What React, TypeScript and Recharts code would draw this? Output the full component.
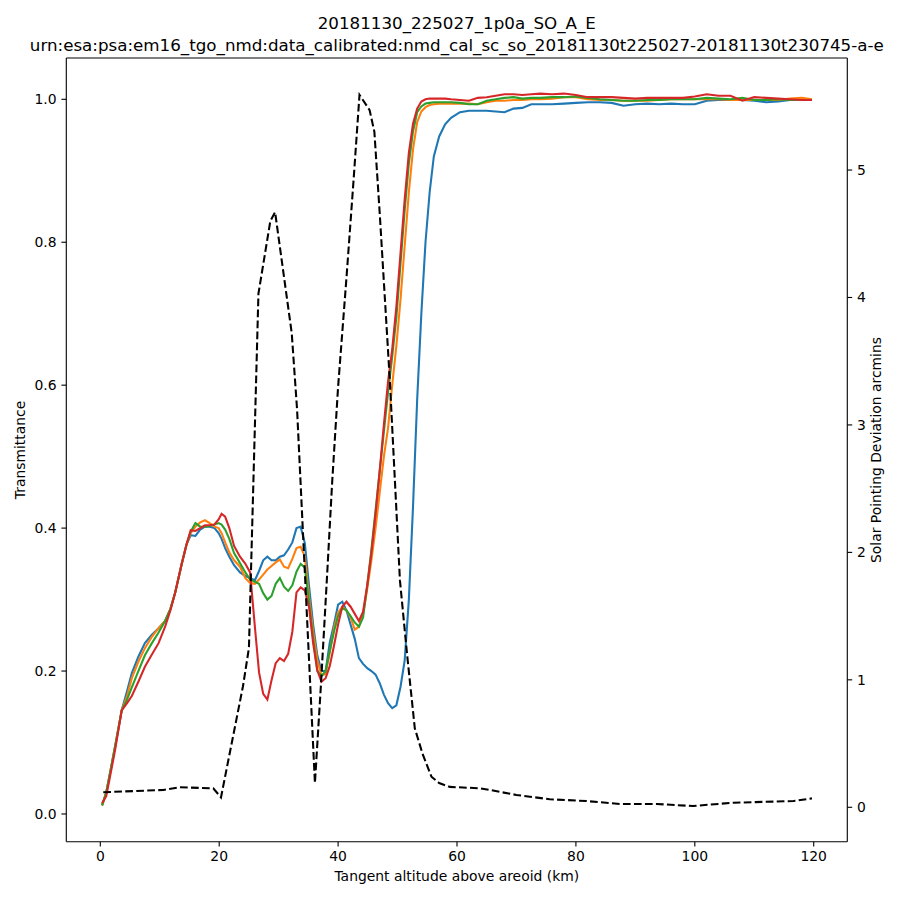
import React from "react";
import { LineChart, Line, XAxis, YAxis, ReferenceLine } from "recharts";

// Tangent altitude grid (km) for the transmittance curves
const altitude = [
  0.3, 1.0, 1.7, 2.5, 3.6, 4.5, 5.3, 6.4, 7.5, 8.6,
  9.8, 10.9, 11.8, 12.6, 13.7, 14.5, 15.2, 16.0, 16.8, 17.6,
  18.4, 19.2, 19.9, 20.4, 21.0, 21.7, 22.5, 23.5, 24.4, 25.2,
  26.0, 26.7, 27.4, 28.1, 28.8, 29.5, 30.2, 30.9, 31.6, 32.3,
  33.0, 33.7, 34.4, 35.1, 35.8, 36.5, 37.2, 37.9, 38.6, 39.3,
  40.0, 40.7, 41.4, 42.1, 42.8, 43.5, 44.2, 44.9, 45.6, 46.3,
  47.0, 47.7, 48.4, 49.1, 49.8, 50.5, 51.2, 51.9, 52.6, 53.3,
  54.0, 54.7, 55.4, 56.1, 57, 58, 59, 60.5, 62, 63.5,
  65, 66.5, 68, 69.5, 71, 72.5, 74, 76, 78, 80,
  82, 84, 86, 88, 90, 92, 94, 96, 98, 100,
  102, 104, 106, 108, 110, 112, 114, 116, 118, 119.7,
];

const blueT = [
  0.012, 0.03, 0.06, 0.095, 0.145, 0.172, 0.197, 0.22, 0.239, 0.25,
  0.26, 0.27, 0.287, 0.31, 0.35, 0.377, 0.39, 0.389, 0.398, 0.402,
  0.402, 0.4, 0.393, 0.385, 0.372, 0.36, 0.348, 0.338, 0.333, 0.33,
  0.327, 0.34, 0.355, 0.36, 0.355, 0.355, 0.36, 0.362, 0.37, 0.38,
  0.4, 0.402, 0.379, 0.32, 0.265, 0.222, 0.2, 0.2, 0.24, 0.265,
  0.293, 0.297, 0.285, 0.265, 0.245, 0.218, 0.21, 0.204, 0.2, 0.195,
  0.183, 0.167, 0.155, 0.148, 0.152, 0.178, 0.215, 0.3, 0.43, 0.58,
  0.7, 0.8, 0.87, 0.92, 0.948, 0.965, 0.974, 0.982, 0.984, 0.984,
  0.984, 0.983, 0.982, 0.987, 0.988, 0.993, 0.993, 0.993, 0.994, 0.995,
  0.996, 0.996, 0.995, 0.991, 0.993, 0.994, 0.993, 0.994, 0.993, 0.993,
  0.998, 0.999, 0.999, 0.999, 0.998, 0.996, 0.997, 0.999, 0.999, 0.999,
];

const orangeT = [
  0.012, 0.03, 0.06, 0.095, 0.145, 0.165, 0.19, 0.213, 0.232, 0.247,
  0.26, 0.27, 0.287, 0.31, 0.35, 0.377, 0.393, 0.402, 0.408, 0.411,
  0.407, 0.402, 0.4, 0.393, 0.38, 0.366, 0.355, 0.346, 0.33, 0.323,
  0.322, 0.328, 0.335, 0.342, 0.347, 0.352, 0.356, 0.346, 0.344, 0.357,
  0.372, 0.374, 0.36, 0.305, 0.255, 0.215, 0.194, 0.196, 0.226, 0.26,
  0.282, 0.29, 0.285, 0.275, 0.258, 0.262, 0.28, 0.315, 0.355, 0.4,
  0.45, 0.5, 0.54, 0.6, 0.655, 0.72, 0.795, 0.87, 0.93, 0.968,
  0.983, 0.989, 0.992, 0.993, 0.994, 0.994, 0.994, 0.994, 0.994, 0.993,
  0.996, 0.998, 0.998, 0.999, 0.999, 1.0, 1.0, 1.001, 1.003, 1.003,
  1.0, 0.999, 0.999, 0.998, 0.998, 0.998, 0.999, 1.0, 1.0, 1.0,
  1.0, 1.0, 0.999, 0.999, 0.999, 0.999, 0.999, 1.001, 1.002, 1.0,
];

const greenT = [
  0.012, 0.03, 0.06, 0.095, 0.145, 0.16, 0.177, 0.2, 0.222, 0.238,
  0.254, 0.27, 0.287, 0.31, 0.35, 0.377, 0.395, 0.407, 0.402, 0.402,
  0.403, 0.405, 0.407, 0.405, 0.398, 0.385, 0.365, 0.351, 0.338, 0.328,
  0.325, 0.322, 0.309, 0.3, 0.305, 0.322, 0.33, 0.318, 0.312, 0.32,
  0.339, 0.35, 0.345, 0.297, 0.245, 0.2, 0.193, 0.2, 0.228, 0.255,
  0.277, 0.288, 0.285, 0.277, 0.268, 0.262, 0.275, 0.32, 0.37, 0.425,
  0.48, 0.535, 0.59, 0.64, 0.695, 0.77, 0.845, 0.91, 0.955, 0.982,
  0.99, 0.994, 0.995, 0.996, 0.996, 0.996, 0.996, 0.995, 0.993, 0.993,
  0.998, 1.0, 1.002, 1.003, 1.001, 1.002, 1.002, 1.003, 1.003, 1.004,
  1.002, 1.0, 0.999, 0.998, 0.998, 0.999, 0.999, 1.0, 1.0, 1.0,
  1.002, 1.001, 1.0, 1.002, 0.999, 0.999, 1.0, 0.999, 0.999, 0.999,
];

const redT = [
  0.015, 0.025, 0.055, 0.09, 0.145, 0.155, 0.165, 0.185, 0.206, 0.222,
  0.239, 0.262, 0.285, 0.31, 0.35, 0.377, 0.397, 0.396, 0.4, 0.404,
  0.404, 0.405, 0.412, 0.42, 0.416, 0.4, 0.375, 0.36, 0.35, 0.338,
  0.262, 0.198, 0.168, 0.16, 0.187, 0.211, 0.218, 0.214, 0.224, 0.255,
  0.31, 0.317, 0.313, 0.29, 0.239, 0.201, 0.185, 0.19, 0.207, 0.235,
  0.265, 0.29, 0.297, 0.29, 0.28, 0.27, 0.283, 0.32, 0.365, 0.42,
  0.48, 0.545, 0.605, 0.65, 0.71, 0.785, 0.86, 0.925, 0.966, 0.987,
  0.997, 1.0, 1.001, 1.001, 1.001, 1.001, 1.0, 0.999, 0.998, 1.002,
  1.003, 1.005, 1.007, 1.007, 1.006, 1.007, 1.008, 1.007, 1.008, 1.006,
  1.003, 1.003, 1.003, 1.002, 1.001, 1.002, 1.002, 1.002, 1.002, 1.004,
  1.007, 1.005, 1.005, 0.998, 1.003, 1.002, 1.001, 1.0, 0.999, 0.999,
];

// Solar pointing deviation (arcmins), right axis
const deviationAltitude = [
  0.5, 10.6, 13.4, 19.0, 20.3, 24.0, 25.0, 26.6, 28.6, 29.4,
  32.2, 33.1, 36.1, 37.1, 38.1, 39.0, 40.0, 41.4, 42.6, 43.6,
  45.3, 46.1, 47.0, 48.7, 50.4, 51.6, 52.9, 54.2, 55.7, 57.0,
  58.8, 63.9, 65.5, 70.0, 75.6, 81.8, 87.4, 93.6, 99.7, 106.5,
  116.6, 119.7,
];
const deviation = [
  0.118, 0.136, 0.157, 0.149, 0.078, 0.95, 1.25, 4.03, 4.6, 4.67,
  3.72, 3.12, 0.19, 0.95, 1.78, 2.55, 3.3, 4.15, 4.92, 5.59,
  5.47, 5.3, 4.66, 3.35, 1.78, 1.2, 0.62, 0.42, 0.24, 0.19,
  0.16, 0.149, 0.136, 0.097, 0.063, 0.049, 0.026, 0.026, 0.01, 0.036,
  0.049, 0.07,
];

const xTicks = [0, 20, 40, 60, 80, 100, 120];
const leftTicks = [0, 0.2, 0.4, 0.6, 0.8, 1.0];
const rightTicks = [0, 1, 2, 3, 4, 5];

const titleLine1 = "20181130_225027_1p0a_SO_A_E";
const titleLine2 =
  "urn:esa:psa:em16_tgo_nmd:data_calibrated:nmd_cal_sc_so_20181130t225027-20181130t230745-a-e";

const transData = altitude.map((a, i) => ({
  alt: a,
  blue: blueT[i],
  orange: orangeT[i],
  green: greenT[i],
  red: redT[i],
}));
const devData = deviationAltitude.map((a, i) => ({ alt: a, dev: deviation[i] }));

const FONT = "'DejaVu Sans', sans-serif";
const tickStyle = { fontSize: 13.9, fill: "#000", fontFamily: FONT };
const LW = 2.08;
const SPINE = 1.11;

export default function App() {
  const W = 884;
  const H = 884;
  return (
    <div style={{ position: "relative", width: W, height: H, fontFamily: FONT, color: "#000" }}>
      <LineChart
        width={W}
        height={H}
        margin={{ top: 50, right: 0, bottom: 0, left: 0 }}
      >
        <XAxis
          type="number"
          dataKey="alt"
          domain={[-5.72, 125.65]}
          allowDataOverflow
          ticks={xTicks}
          interval={0}
          height={50.3}
          tickSize={4.9}
          tickMargin={4.5}
          tick={tickStyle}
          axisLine={{ stroke: "#000", strokeWidth: SPINE }}
          tickLine={{ stroke: "#000", strokeWidth: SPINE }}
        />
        <YAxis
          yAxisId="left"
          type="number"
          domain={[-0.0388, 1.0578]}
          allowDataOverflow
          ticks={leftTicks}
          interval={0}
          width={58.3}
          tickSize={4.9}
          tickMargin={4.9}
          tick={tickStyle}
          tickFormatter={(v: number) => v.toFixed(1)}
          axisLine={{ stroke: "#000", strokeWidth: SPINE }}
          tickLine={{ stroke: "#000", strokeWidth: SPINE }}
        />
        <YAxis
          yAxisId="right"
          orientation="right"
          type="number"
          domain={[-0.27, 5.879]}
          allowDataOverflow
          ticks={rightTicks}
          interval={0}
          width={44.7}
          tickSize={4.9}
          tickMargin={4.9}
          tick={tickStyle}
          tickFormatter={(v: number) => String(v)}
          axisLine={{ stroke: "#000", strokeWidth: SPINE }}
          tickLine={{ stroke: "#000", strokeWidth: SPINE }}
        />
        <ReferenceLine yAxisId="left" y={1.0578} stroke="#000" strokeWidth={SPINE} ifOverflow="extendDomain" />
        <Line data={transData} yAxisId="left" dataKey="blue" stroke="#1f77b4" strokeWidth={LW} dot={false} isAnimationActive={false} type="linear" />
        <Line data={transData} yAxisId="left" dataKey="orange" stroke="#ff7f0e" strokeWidth={LW} dot={false} isAnimationActive={false} type="linear" />
        <Line data={transData} yAxisId="left" dataKey="green" stroke="#2ca02c" strokeWidth={LW} dot={false} isAnimationActive={false} type="linear" />
        <Line data={transData} yAxisId="left" dataKey="red" stroke="#d62728" strokeWidth={LW} dot={false} isAnimationActive={false} type="linear" />
        <Line data={devData} yAxisId="right" dataKey="dev" stroke="#000" strokeWidth={LW} strokeDasharray="7.7 3.3" dot={false} isAnimationActive={false} type="linear" />
      </LineChart>

      <div style={{ position: "absolute", left: 448.8, top: 15, transform: "translate(-50%, -50%)", whiteSpace: "nowrap", fontSize: 16.7, lineHeight: 1 }}>
        {titleLine1}
      </div>
      <div style={{ position: "absolute", left: 448.8, top: 37, transform: "translate(-50%, -50%)", whiteSpace: "nowrap", fontSize: 16.7, lineHeight: 1 }}>
        {titleLine2}
      </div>
      <div style={{ position: "absolute", left: 448.8, top: 869, transform: "translate(-50%, -50%)", whiteSpace: "nowrap", fontSize: 13.9, lineHeight: 1 }}>
        Tangent altitude above areoid (km)
      </div>
      <div style={{ position: "absolute", left: 13, top: 442, transform: "translate(-50%, -50%) rotate(-90deg)", whiteSpace: "nowrap", fontSize: 13.9, lineHeight: 1 }}>
        Transmittance
      </div>
      <div style={{ position: "absolute", left: 869, top: 442, transform: "translate(-50%, -50%) rotate(-90deg)", whiteSpace: "nowrap", fontSize: 13.9, lineHeight: 1 }}>
        Solar Pointing Deviation arcmins
      </div>
    </div>
  );
}
